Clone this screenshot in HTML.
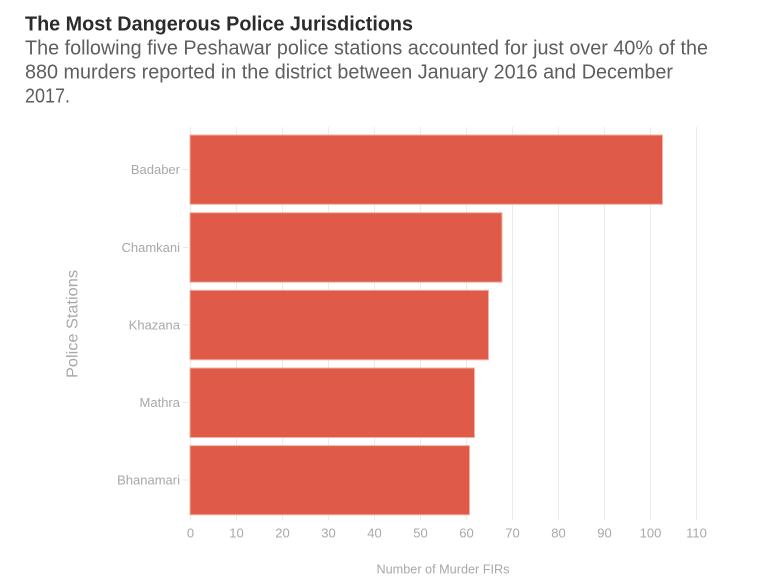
<!DOCTYPE html>
<html>
<head>
<meta charset="utf-8">
<style>
  html, body { margin:0; padding:0; background:#fff; }
  body { width:758px; height:585px; overflow:hidden; }
  svg { display:block; }
  text { font-family: "Liberation Sans", sans-serif; }
</style>
</head>
<body>
<svg width="758" height="585" viewBox="0 0 758 585" xmlns="http://www.w3.org/2000/svg">
  <rect x="0" y="0" width="758" height="585" fill="#ffffff"/>

  <!-- Title & subtitle -->
  <text x="25" y="30.5" font-size="20" font-weight="bold" fill="#2b2b2b" textLength="388" lengthAdjust="spacingAndGlyphs">The Most Dangerous Police Jurisdictions</text>
  <text x="25" y="54.5" font-size="20" fill="#5e5e5e" textLength="683" lengthAdjust="spacingAndGlyphs">The following five Peshawar police stations accounted for just over 40% of the</text>
  <text x="25" y="78.5" font-size="20" fill="#5e5e5e" textLength="648" lengthAdjust="spacingAndGlyphs">880 murders reported in the district between January 2016 and December</text>
  <text x="25" y="102.5" font-size="20" fill="#5e5e5e" textLength="45" lengthAdjust="spacingAndGlyphs">2017.</text>

  <!-- Gridlines -->
  <g stroke="#ebebeb" stroke-width="1">
    <line x1="190.5" y1="127" x2="190.5" y2="520"/>
    <line x1="236.5" y1="127" x2="236.5" y2="520"/>
    <line x1="282.5" y1="127" x2="282.5" y2="520"/>
    <line x1="328.5" y1="127" x2="328.5" y2="520"/>
    <line x1="374.5" y1="127" x2="374.5" y2="520"/>
    <line x1="420.5" y1="127" x2="420.5" y2="520"/>
    <line x1="466.5" y1="127" x2="466.5" y2="520"/>
    <line x1="512.5" y1="127" x2="512.5" y2="520"/>
    <line x1="558.5" y1="127" x2="558.5" y2="520"/>
    <line x1="604.5" y1="127" x2="604.5" y2="520"/>
    <line x1="650.5" y1="127" x2="650.5" y2="520"/>
    <line x1="696.5" y1="127" x2="696.5" y2="520"/>
  </g>

  <!-- Bars -->
  <g fill="#de5642" fill-opacity="0.97" stroke="#f2b2a6" stroke-width="1">
    <rect x="190" y="135" width="472.5" height="69.3"/>
    <rect x="190" y="212.7" width="312" height="69.5"/>
    <rect x="190" y="290.3" width="298.5" height="69.5"/>
    <rect x="190" y="368" width="284.5" height="69.5"/>
    <rect x="190" y="445.6" width="279.5" height="69.2"/>
  </g>

  <!-- Y tick marks -->
  <g stroke="#e6e6e6" stroke-width="1">
    <line x1="183" y1="169.5" x2="188" y2="169.5"/>
    <line x1="183" y1="247.5" x2="188" y2="247.5"/>
    <line x1="183" y1="325" x2="188" y2="325"/>
    <line x1="183" y1="402.5" x2="188" y2="402.5"/>
    <line x1="183" y1="480" x2="188" y2="480"/>
  </g>

  <!-- Y tick labels -->
  <g font-size="13" fill="#a8a8a8" text-anchor="end">
    <text x="180" y="174">Badaber</text>
    <text x="180" y="252">Chamkani</text>
    <text x="180" y="329.5">Khazana</text>
    <text x="180" y="407">Mathra</text>
    <text x="180" y="484.5">Bhanamari</text>
  </g>

  <!-- X tick labels -->
  <g font-size="13" fill="#a8a8a8" text-anchor="middle">
    <text x="190.5" y="537.5">0</text>
    <text x="236.5" y="537.5">10</text>
    <text x="282.5" y="537.5">20</text>
    <text x="328.5" y="537.5">30</text>
    <text x="374.5" y="537.5">40</text>
    <text x="420.5" y="537.5">50</text>
    <text x="466.5" y="537.5">60</text>
    <text x="512.5" y="537.5">70</text>
    <text x="558.5" y="537.5">80</text>
    <text x="604.5" y="537.5">90</text>
    <text x="650.5" y="537.5">100</text>
    <text x="696.5" y="537.5">110</text>
  </g>

  <!-- Axis titles -->
  <text x="443" y="573.5" font-size="13" fill="#a8a8a8" text-anchor="middle" textLength="133" lengthAdjust="spacingAndGlyphs">Number of Murder FIRs</text>
  <text x="0" y="0" font-size="16" fill="#a8a8a8" text-anchor="middle" textLength="108" lengthAdjust="spacingAndGlyphs" transform="translate(77.5,324) rotate(-90)">Police Stations</text>
</svg>
</body>
</html>
